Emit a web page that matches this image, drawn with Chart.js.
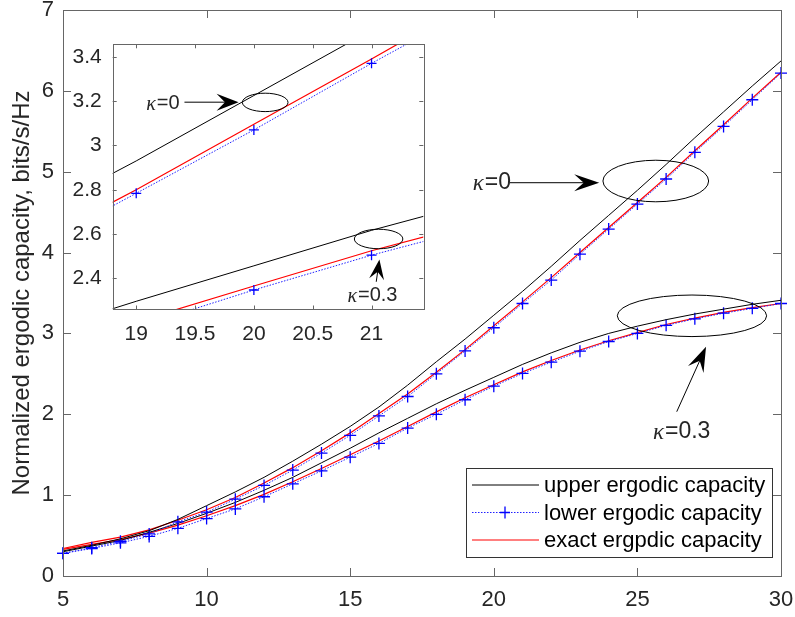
<!DOCTYPE html>
<html>
<head>
<meta charset="utf-8">
<script src="https://cdn.jsdelivr.net/npm/chart.js@4.4.1/dist/chart.umd.min.js"></script>
<title>Normalized ergodic capacity</title>
<style>
  body { margin: 0; background: #fff; }
  #wrap { position: relative; width: 795px; height: 617px; }
  #mainBox { position: absolute; left: 0; top: 0; width: 795px; height: 617px; }
  #insetBox { position: absolute; left: 60px; top: 34px; width: 370px; height: 320px; }
</style>
</head>
<body>
<div id="wrap">
  <div id="mainBox"><canvas id="mainChart"></canvas></div>
  <div id="insetBox"><canvas id="insetChart"></canvas></div>
</div>

<script>
// x values (SNR)
var snr = [5,6,7,8,9,10,11,12,13,14,15,16,17,18,19,20,21,22,23,24,25,26,27,28,29,30];

// kappa = 0
var upperK0 = [0.31,0.38,0.46,0.56,0.70,0.87,1.04,1.22,1.42,1.63,1.85,2.09,2.36,2.65,2.93,3.225,3.52,3.83,4.15,4.46,4.77,5.09,5.42,5.74,6.06,6.37];
var lowerK0 = [0.28,0.35,0.43,0.52,0.67,0.79,0.95,1.12,1.31,1.52,1.74,1.98,2.22,2.50,2.784,3.07,3.37,3.66,3.98,4.29,4.60,4.91,5.24,5.56,5.89,6.22];
var exactK0 = [0.34,0.415,0.48,0.57,0.69,0.82,0.97,1.15,1.34,1.55,1.77,2.01,2.25,2.52,2.80,3.095,3.39,3.69,4.00,4.31,4.62,4.93,5.26,5.58,5.91,6.23];

// kappa = 0.3
var upperK03 = [0.30,0.37,0.44,0.54,0.65,0.775,0.91,1.06,1.22,1.40,1.58,1.77,1.95,2.13,2.297,2.457,2.617,2.76,2.89,3.00,3.09,3.17,3.24,3.30,3.36,3.41];
var lowerK03 = [0.28,0.34,0.41,0.49,0.59,0.71,0.83,0.98,1.14,1.30,1.47,1.64,1.83,2.00,2.18,2.348,2.505,2.645,2.78,2.90,3.00,3.10,3.18,3.25,3.31,3.37];
var exactK03 = [0.33,0.39,0.45,0.53,0.63,0.745,0.87,1.01,1.165,1.33,1.50,1.67,1.85,2.03,2.205,2.366,2.525,2.665,2.795,2.91,3.01,3.11,3.19,3.26,3.32,3.37];

// tick labels
var xTicks = [5,10,15,20,25,30];
var yTicks = [0,1,2,3,4,5,6,7];
var insetXTicks = [19,19.5,20,20.5,21];
var insetYTicks = [2.4,2.6,2.8,3.0,3.2,3.4];

var legendLabels = ['upper ergodic capacity', 'lower ergodic capacity', 'exact ergpdic capacity'];

var FONT = "'Liberation Sans', Arial, sans-serif";
var TXT = '#262626';

function pts(ys) {
  return snr.map(function(x, i) { return { x: x, y: ys[i] }; });
}

// builds the 6 datasets, marker size differs between main plot and inset
function makeSets(r, clip) {
  function upper(ys) { return { data: pts(ys), borderColor: '#000', borderWidth: 1, pointRadius: 0, clip: clip }; }
  function lower(ys) {
    return { data: pts(ys), borderColor: '#2020ff', borderWidth: 1, borderDash: [1.5, 1.5],
             pointStyle: 'cross', pointRadius: r, pointBorderColor: '#0000ff', pointBorderWidth: 1.3, clip: clip };
  }
  function exact(ys) { return { data: pts(ys), borderColor: '#ff0000', borderWidth: 1.2, pointRadius: 0, clip: clip }; }
  return [upper(upperK0), lower(lowerK0), exact(exactK0), upper(upperK03), lower(lowerK03), exact(exactK03)];
}

// MATLAB style box with inward ticks
var boxTicks = {
  id: 'boxTicks',
  beforeDatasetsDraw: function(chart, args, opts) {
    if (!opts.fill) return;
    var a = chart.chartArea, ctx = chart.ctx;
    ctx.save();
    ctx.fillStyle = '#fff';
    ctx.fillRect(a.left, a.top, a.right - a.left, a.bottom - a.top);
    ctx.restore();
  },
  afterDatasetsDraw: function(chart, args, opts) {
    var ctx = chart.ctx, a = chart.chartArea, xs = chart.scales.x, ys = chart.scales.y;
    var len = opts.len || 7;
    ctx.save();
    ctx.strokeStyle = '#666';
    ctx.lineWidth = 1;
    ctx.beginPath();
    xs.ticks.forEach(function(t) {
      var px = Math.round(xs.getPixelForValue(t.value)) + 0.5;
      ctx.moveTo(px, a.bottom); ctx.lineTo(px, a.bottom - len);
      ctx.moveTo(px, a.top); ctx.lineTo(px, a.top + len);
    });
    ys.ticks.forEach(function(t) {
      var py = Math.round(ys.getPixelForValue(t.value)) + 0.5;
      ctx.moveTo(a.left, py); ctx.lineTo(a.left + len, py);
      ctx.moveTo(a.right, py); ctx.lineTo(a.right - len, py);
    });
    ctx.stroke();
    ctx.strokeRect(Math.round(a.left) + 0.5, Math.round(a.top) + 0.5,
                   Math.round(a.right - a.left), Math.round(a.bottom - a.top));
    ctx.restore();
  }
};

// ellipses, arrows and kappa labels, placed in data units
var notes = {
  id: 'notes',
  afterDatasetsDraw: function(chart, args, opts) {
    var ctx = chart.ctx, xs = chart.scales.x, ys = chart.scales.y;
    function X(v) { return xs.getPixelForValue(v); }
    function Y(v) { return ys.getPixelForValue(v); }
    ctx.save();
    ctx.strokeStyle = '#000';
    ctx.fillStyle = '#000';
    ctx.lineWidth = 1;
    (opts.items || []).forEach(function(it) {
      if (it.type === 'ellipse') {
        var cx = X(it.x), cy = Y(it.y);
        var rx = Math.abs(X(it.x + it.rx) - cx), ry = Math.abs(Y(it.y + it.ry) - cy);
        ctx.beginPath();
        ctx.ellipse(cx, cy, rx, ry, 0, 0, Math.PI * 2);
        ctx.stroke();
      } else if (it.type === 'arrow') {
        var x1 = X(it.x1), y1 = Y(it.y1), x2 = X(it.x2), y2 = Y(it.y2);
        var dx = x2 - x1, dy = y2 - y1, d = Math.sqrt(dx * dx + dy * dy);
        var ux = dx / d, uy = dy / d, L = it.len, W = it.wid;
        ctx.beginPath();
        ctx.moveTo(x1, y1);
        ctx.lineTo(x2 - ux * L * 0.6, y2 - uy * L * 0.6);
        ctx.stroke();
        ctx.beginPath();
        ctx.moveTo(x2, y2);
        ctx.lineTo(x2 - ux * L - uy * W / 2, y2 - uy * L + ux * W / 2);
        ctx.lineTo(x2 - ux * L * 0.62, y2 - uy * L * 0.62);
        ctx.lineTo(x2 - ux * L + uy * W / 2, y2 - uy * L - ux * W / 2);
        ctx.closePath();
        ctx.fill();
      } else if (it.type === 'kappa') {
        var lx = X(it.x), ly = Y(it.y);
        ctx.textBaseline = 'middle';
        ctx.textAlign = 'left';
        ctx.fillStyle = TXT;
        ctx.font = 'italic ' + it.size + "px 'Liberation Serif', serif";
        ctx.fillText('\u03BA', lx, ly + 1);
        var w = ctx.measureText('\u03BA').width;
        ctx.font = it.size + 'px ' + FONT;
        ctx.fillText('=' + it.val, lx + w + 1, ly);
        ctx.fillStyle = '#000';
      }
    });
    ctx.restore();
  }
};

// legend box in the lower right corner of the main axes
var boxLegend = {
  id: 'boxLegend',
  afterDatasetsDraw: function(chart) {
    var ctx = chart.ctx, a = chart.chartArea;
    var right = a.right - 9, bottom = a.bottom - 19, w = 306, h = 89;
    var left = right - w, top = bottom - h;
    ctx.save();
    ctx.fillStyle = '#fff';
    ctx.fillRect(left, top, w, h);
    ctx.strokeStyle = '#333';
    ctx.lineWidth = 1;
    ctx.strokeRect(Math.round(left) + 0.5, Math.round(top) + 0.5, w, h);
    var sets = chart.data.datasets;
    for (var i = 0; i < 3; i++) {
      var ds = sets[i], y = top + 17 + i * 27.5;
      ctx.strokeStyle = ds.borderColor;
      ctx.lineWidth = ds.borderWidth;
      ctx.setLineDash(ds.borderDash || []);
      ctx.beginPath();
      ctx.moveTo(left + 6, y); ctx.lineTo(left + 73, y);
      ctx.stroke();
      ctx.setLineDash([]);
      if (ds.pointStyle === 'cross') {
        var cx = left + 39;
        ctx.strokeStyle = ds.pointBorderColor;
        ctx.lineWidth = 1.3;
        ctx.beginPath();
        ctx.moveTo(cx - 5, y); ctx.lineTo(cx + 5, y);
        ctx.moveTo(cx, y - 6); ctx.lineTo(cx, y + 6);
        ctx.stroke();
      }
      ctx.fillStyle = '#000';
      ctx.font = '22px ' + FONT;
      ctx.textBaseline = 'middle';
      ctx.fillText(legendLabels[i], left + 78, y + 1);
    }
    ctx.restore();
  }
};

function fixTicks(list) {
  return function(s) { s.ticks = list.map(function(v) { return { value: v }; }); };
}
function plainLabel(v) { return String(Math.round(v * 10) / 10); }

var noGrid = { display: false, drawTicks: false };

var mainConfig = {
  type: 'line',
  data: { datasets: makeSets(6, false) },
  options: {
    responsive: true,
    maintainAspectRatio: false,
    animation: false,
    events: [],
    layout: { padding: 0 },
    scales: {
      x: {
        type: 'linear', min: 5, max: 30,
        afterBuildTicks: fixTicks(xTicks),
        afterFit: function(s) { s.height = 41; s.paddingLeft = 0; s.paddingRight = 14; },
        grid: noGrid, border: { display: false },
        ticks: { font: { family: FONT, size: 22 }, color: TXT, padding: 11, maxRotation: 0, callback: plainLabel }
      },
      y: {
        type: 'linear', min: 0, max: 7,
        afterBuildTicks: fixTicks(yTicks),
        afterFit: function(s) { s.width = 63; s.paddingTop = 10; s.paddingBottom = 0; },
        grid: noGrid, border: { display: false },
        ticks: { font: { family: FONT, size: 22 }, color: TXT, padding: 9, callback: plainLabel },
        title: { display: true, text: 'Normalized ergodic capacity, bits/s/Hz',
                 font: { family: FONT, size: 24 }, color: TXT, padding: { top: 8, bottom: 0 } }
      }
    },
    plugins: {
      legend: { display: false },
      tooltip: { enabled: false },
      boxTicks: { len: 8 },
      notes: { items: [
        { type: 'ellipse', x: 25.64, y: 4.885, rx: 1.84, ry: 0.257 },
        { type: 'arrow', x1: 20.56, y1: 4.864, x2: 23.67, y2: 4.864, len: 25, wid: 17 },
        { type: 'kappa', x: 19.27, y: 4.864, val: '0', size: 23 },
        { type: 'ellipse', x: 26.9, y: 3.218, rx: 2.6, ry: 0.257 },
        { type: 'arrow', x1: 26.37, y1: 2.032, x2: 27.39, y2: 2.836, len: 25, wid: 17 },
        { type: 'kappa', x: 25.54, y: 1.785, val: '0.3', size: 23 }
      ] }
    }
  },
  plugins: [boxTicks, notes, boxLegend]
};

var insetConfig = {
  type: 'line',
  data: { datasets: makeSets(5, 0) },
  options: {
    responsive: true,
    maintainAspectRatio: false,
    animation: false,
    events: [],
    layout: { padding: 0 },
    scales: {
      x: {
        type: 'linear', min: 18.8, max: 21.44,
        afterBuildTicks: fixTicks(insetXTicks),
        afterFit: function(s) { s.height = 44.5; s.paddingLeft = 0; s.paddingRight = 6.7; },
        grid: noGrid, border: { display: false },
        ticks: { font: { family: FONT, size: 21 }, color: TXT, padding: 12, maxRotation: 0, callback: plainLabel }
      },
      y: {
        type: 'linear', min: 2.26, max: 3.456,
        afterBuildTicks: fixTicks(insetYTicks),
        afterFit: function(s) { s.width = 52.7; s.paddingTop = 10.3; s.paddingBottom = 0; },
        grid: noGrid, border: { display: false },
        ticks: { font: { family: FONT, size: 21 }, color: TXT, padding: 11, callback: plainLabel }
      }
    },
    plugins: {
      legend: { display: false },
      tooltip: { enabled: false },
      boxTicks: { len: 4, fill: true },
      notes: { items: [
        { type: 'ellipse', x: 20.096, y: 3.194, rx: 0.194, ry: 0.0415 },
        { type: 'arrow', x1: 19.41, y1: 3.195, x2: 19.87, y2: 3.195, len: 22, wid: 17 },
        { type: 'kappa', x: 19.085, y: 3.187, val: '0', size: 20 },
        { type: 'ellipse', x: 21.06, y: 2.578, rx: 0.206, ry: 0.044 },
        { type: 'arrow', x1: 21.04, y1: 2.385, x2: 21.067, y2: 2.486, len: 20, wid: 15 },
        { type: 'kappa', x: 20.795, y: 2.322, val: '0.3', size: 20 }
      ] }
    }
  },
  plugins: [boxTicks, notes]
};

var mainChart = new Chart(document.getElementById('mainChart'), mainConfig);
var insetChart = new Chart(document.getElementById('insetChart'), insetConfig);
</script>
</body>
</html>
